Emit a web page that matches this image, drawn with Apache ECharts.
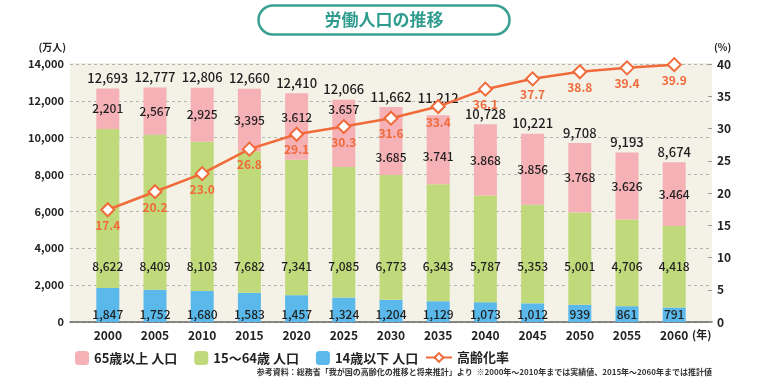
<!DOCTYPE html>
<html><head><meta charset="utf-8">
<script src="https://cdn.jsdelivr.net/npm/echarts@6/dist/echarts.min.js"></script>
<style>html,body{margin:0;padding:0;background:#fff}#c{width:768px;height:384px}</style>
</head><body><div id="c"></div>
<script>
const years = ['2000','2005','2010','2015','2020','2025','2030','2035','2040','2045','2050','2055','2060'];
const under14 = [1847,1752,1680,1583,1457,1324,1204,1129,1073,1012,939,861,791];
const age15to64 = [8622,8409,8103,7682,7341,7085,6773,6343,5787,5353,5001,4706,4418];
const over65 = [2201,2567,2925,3395,3612,3657,3685,3741,3868,3856,3768,3626,3464];
const over65Labels = ['2,201','2,567','2,925','3,395','3.612','3.657','3.685','3.741','3.868','3.856','3.768','3.626','3.464'];
const totals = [12693,12777,12806,12660,12410,12066,11662,11212,10728,10221,9708,9193,8674];
const agingRate = [17.4,20.2,23.0,26.8,29.1,30.3,31.6,33.4,36.1,37.7,38.8,39.4,39.9];
const leftTicks = [0,2000,4000,6000,8000,10000,12000,14000];
const rightTicks = [0,5,10,15,20,25,30,35,40];

const FONT = '"Noto Sans CJK JP", "Noto Sans", sans-serif';
const fmt = v => Number(v).toLocaleString('en-US');
const chart = echarts.init(document.getElementById('c'));

// per-point label nudges (layout only)
const over65Nudge = {4:-9, 5:-24, 6:16, 7:7};
const totalNudge = {7:-7};

const fixedLabel = (val) => (p => ({
  x: p.rect.x + p.rect.width / 2,
  y: chart.convertToPixel({yAxisIndex:0}, val),
  align:'center', verticalAlign:'middle'
}));

const yMin = leftTicks[0], yMax = leftTicks[leftTicks.length-1];
const inner = {show:true, position:'inside', fontSize:12, fontWeight:500, color:'#1e1e1e', fontFamily:FONT};

chart.setOption({
  animation:false,
  textStyle:{fontFamily:FONT},
  title:{
    text:'労働人口の推移', left:'center', top:5,
    textStyle:{color:'#2f9c8e', fontSize:17, fontWeight:'bold', fontFamily:FONT},
    borderColor:'#3aa093', borderWidth:2.5, borderRadius:17,
    padding:[6,66,7,66], backgroundColor:'#fff'
  },
  graphic:[
    {type:'rect', shape:{x:70,y:63,width:642,height:259}, style:{fill:'#f4f1e7'}, z:-10, silent:true},
    {type:'text', right:56, top:368, style:{text:'参考資料：総務省「我が国の高齢化の推移と将来推計」より  ※2000年～2010年までは実績値、2015年～2060年までは推計値', font:'bold 8px '+FONT, fill:'#333'}}
  ],
  legend:[
    {data:['65歳以上 人口','15～64歳 人口','14歳以下 人口'], left:70, top:346, itemWidth:14, itemHeight:14, itemGap:17,
     textStyle:{fontSize:13, fontWeight:'bold', color:'#222', fontFamily:FONT}},
    {data:['高齢化率'], left:420, top:346, itemWidth:26, itemHeight:11,
     textStyle:{fontSize:13, fontWeight:'bold', color:'#222', fontFamily:FONT}}
  ],
  grid:[
    {left:70, right:56, top:64, bottom:62},
    {left:84.2, right:70.2, top:64, bottom:62}
  ],
  xAxis:[
    {type:'value', gridIndex:0, min:1996, max:2064,
     axisLine:{show:true, onZero:true, lineStyle:{color:'#666', width:1.5}},
     axisTick:{show:false}, splitLine:{show:false}, axisLabel:{show:false},
     name:'(年)', nameLocation:'end', nameGap:-20, nameMoveOverlap:false,
     nameTextStyle:{fontSize:11, fontWeight:'bold', color:'#222', verticalAlign:'top', padding:[7,0,0,0]}},
    {type:'category', gridIndex:1, data:years,
     axisLine:{show:false}, axisTick:{show:false}, splitLine:{show:false},
     axisLabel:{fontSize:12, fontWeight:'bold', color:'#222', margin:7, interval:0}}
  ],
  yAxis:[
    {type:'value', gridIndex:0, min:yMin, max:yMax, interval:2000,
     axisLine:{show:false}, axisTick:{show:false},
     axisLabel:{fontSize:11, fontWeight:'bold', color:'#222', margin:6, formatter:v=>fmt(v)},
     splitLine:{show:true, lineStyle:{type:[3,3], color:'#b5b5b5', width:1}},
     name:'(万人)', nameLocation:'end', nameGap:12,
     nameTextStyle:{fontSize:10, fontWeight:'bold', color:'#222', align:'right', padding:[0,4,0,0]}},
    {type:'value', gridIndex:0, min:rightTicks[0], max:rightTicks[rightTicks.length-1], interval:5, position:'right',
     axisLine:{show:false}, axisTick:{show:true, inside:true, length:4, lineStyle:{color:'#999'}},
     axisLabel:{fontSize:12, fontWeight:'bold', color:'#222', margin:5},
     splitLine:{show:false},
     name:'(%)', nameLocation:'end', nameGap:12,
     nameTextStyle:{fontSize:10, fontWeight:'bold', color:'#222', align:'left', padding:[0,0,0,2]}},
    {type:'value', gridIndex:1, min:yMin, max:yMax, show:false, splitLine:{show:false}}
  ],
  series:[
    {name:'14歳以下 人口', type:'bar', xAxisIndex:1, yAxisIndex:2, stack:'p', barWidth:23, data:under14,
     itemStyle:{color:'#5ab8ea'},
     label:Object.assign({}, inner, {formatter:p=>fmt(p.value)}),
     labelLayout:fixedLabel(420)},
    {name:'15～64歳 人口', type:'bar', xAxisIndex:1, yAxisIndex:2, stack:'p', barWidth:23, data:age15to64,
     itemStyle:{color:'#c0da7b'},
     label:Object.assign({}, inner, {formatter:p=>fmt(p.value)}),
     labelLayout:fixedLabel(3040)},
    {name:'65歳以上 人口', type:'bar', xAxisIndex:1, yAxisIndex:2, stack:'p', barWidth:23,
     data:over65.map((v,i)=>({value:v, label:{offset:[0, over65Nudge[i]||0]}})),
     itemStyle:{color:'#f5b1b6'},
     label:Object.assign({}, inner, {formatter:p=>over65Labels[p.dataIndex]})},
    {name:'total', type:'bar', xAxisIndex:1, yAxisIndex:2, stack:'p', barWidth:23,
     data:years.map((y,i)=>({value:0, label:{offset:[0, totalNudge[i]||0]}})),
     itemStyle:{color:'transparent'},
     label:{show:true, position:'top', distance:4, fontSize:13, color:'#1e1e1e', fontWeight:500, fontFamily:FONT, formatter:p=>fmt(totals[p.dataIndex])}},
    {name:'高齢化率', type:'line', xAxisIndex:0, yAxisIndex:1, data:agingRate.map((v,i)=>[Number(years[i]), v]),
     symbol:'diamond', symbolSize:13, z:5,
     lineStyle:{color:'#f06a3a', width:2.5},
     itemStyle:{color:'#fff', borderColor:'#f06a3a', borderWidth:2},
     label:{show:true, position:'bottom', distance:2, fontSize:12, fontWeight:'bold', color:'#f06a3a', fontFamily:FONT, formatter:p=>p.value[1].toFixed(1)}}
  ]
});
</script></body></html>
